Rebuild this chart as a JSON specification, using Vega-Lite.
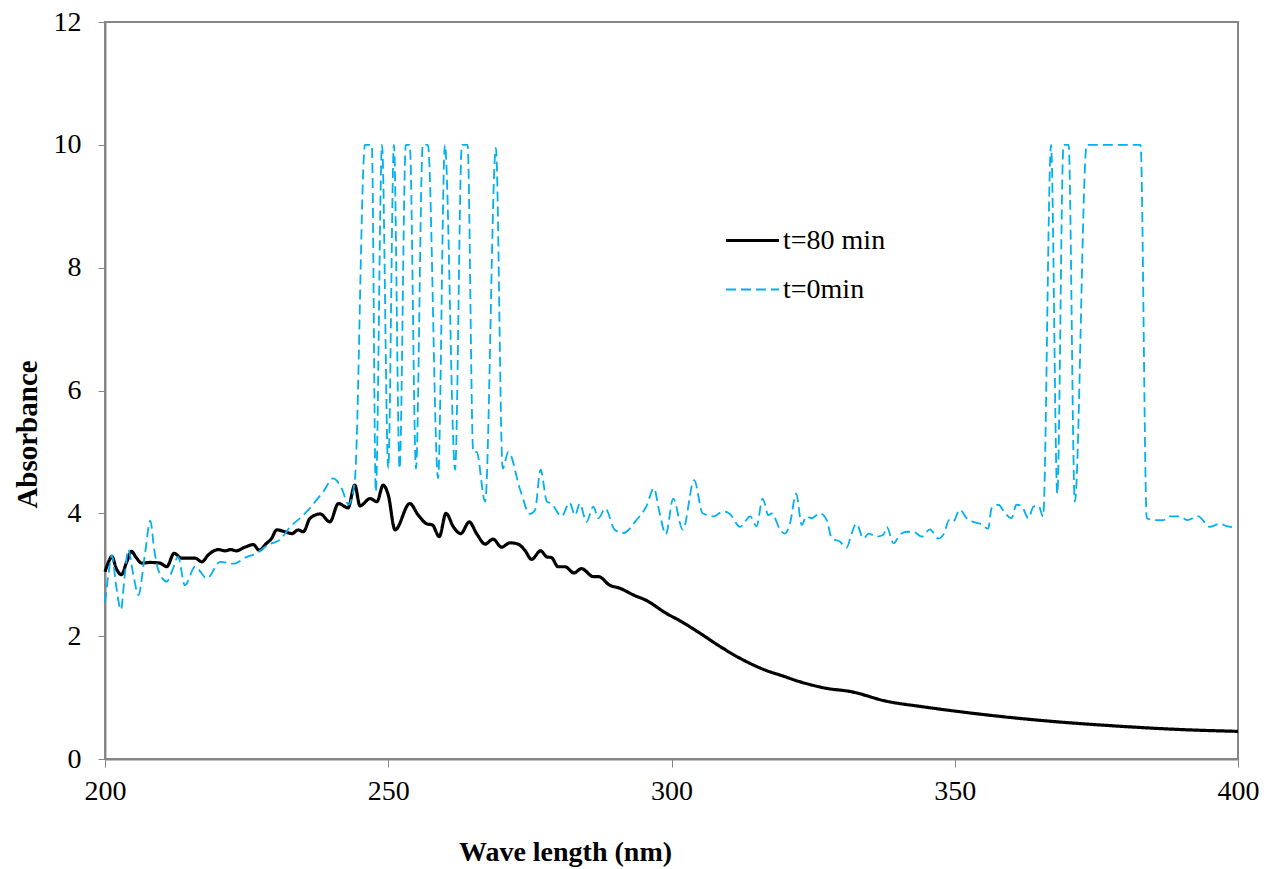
{
  "$schema": "https://vega.github.io/schema/vega-lite/v6.json",
  "width": 1133,
  "height": 737,
  "autosize": {"type": "none"},
  "padding": {"left": 105, "top": 22, "right": 29, "bottom": 110},
  "background": "white",
  "config": {
    "view": {"stroke": "#868686", "strokeWidth": 2},
    "font": "Liberation Serif",
    "legend": {"labelFont": "Liberation Serif", "labelFontSize": 28, "labelColor": "black"}
  },
  "data": {"values": [
    {"s":"t=80 min","x":200,"y":3.05},{"s":"t=80 min","x":200.6,"y":3.2},{"s":"t=80 min","x":201.2,"y":3.3},{"s":"t=80 min","x":202.0,"y":3.1},{"s":"t=80 min","x":202.9,"y":3.0},{"s":"t=80 min","x":203.8,"y":3.2},{"s":"t=80 min","x":204.7,"y":3.38},{"s":"t=80 min","x":205.5,"y":3.28},{"s":"t=80 min","x":206.5,"y":3.19},{"s":"t=80 min","x":208.0,"y":3.2},{"s":"t=80 min","x":209.7,"y":3.19},{"s":"t=80 min","x":210.9,"y":3.13},{"s":"t=80 min","x":212.2,"y":3.35},{"s":"t=80 min","x":213.5,"y":3.27},{"s":"t=80 min","x":215.9,"y":3.27},{"s":"t=80 min","x":217.1,"y":3.21},{"s":"t=80 min","x":218.2,"y":3.32},{"s":"t=80 min","x":220.0,"y":3.41},{"s":"t=80 min","x":221.2,"y":3.39},{"s":"t=80 min","x":222.2,"y":3.41},{"s":"t=80 min","x":223.2,"y":3.39},{"s":"t=80 min","x":224.7,"y":3.45},{"s":"t=80 min","x":226.2,"y":3.49},{"s":"t=80 min","x":227.2,"y":3.4},{"s":"t=80 min","x":228.5,"y":3.51},{"s":"t=80 min","x":229.4,"y":3.59},{"s":"t=80 min","x":230.3,"y":3.73},{"s":"t=80 min","x":231.8,"y":3.7},{"s":"t=80 min","x":233.0,"y":3.67},{"s":"t=80 min","x":234.1,"y":3.73},{"s":"t=80 min","x":235.0,"y":3.7},{"s":"t=80 min","x":236.2,"y":3.92},{"s":"t=80 min","x":238.0,"y":3.99},{"s":"t=80 min","x":239.7,"y":3.86},{"s":"t=80 min","x":241.2,"y":4.16},{"s":"t=80 min","x":242.9,"y":4.09},{"s":"t=80 min","x":244.1,"y":4.46},{"s":"t=80 min","x":245.0,"y":4.12},{"s":"t=80 min","x":246.8,"y":4.24},{"s":"t=80 min","x":248.0,"y":4.19},{"s":"t=80 min","x":249.1,"y":4.46},{"s":"t=80 min","x":250.0,"y":4.3},{"s":"t=80 min","x":251.2,"y":3.73},{"s":"t=80 min","x":253.8,"y":4.16},{"s":"t=80 min","x":255.3,"y":3.97},{"s":"t=80 min","x":256.8,"y":3.83},{"s":"t=80 min","x":257.8,"y":3.81},{"s":"t=80 min","x":259.0,"y":3.62},{"s":"t=80 min","x":260.2,"y":4.0},{"s":"t=80 min","x":261.5,"y":3.78},{"s":"t=80 min","x":262.8,"y":3.67},{"s":"t=80 min","x":264.3,"y":3.86},{"s":"t=80 min","x":265.6,"y":3.67},{"s":"t=80 min","x":267.1,"y":3.5},{"s":"t=80 min","x":268.5,"y":3.58},{"s":"t=80 min","x":270.0,"y":3.45},{"s":"t=80 min","x":271.5,"y":3.52},{"s":"t=80 min","x":272.9,"y":3.5},{"s":"t=80 min","x":274.1,"y":3.4},{"s":"t=80 min","x":275.3,"y":3.25},{"s":"t=80 min","x":276.9,"y":3.39},{"s":"t=80 min","x":278.0,"y":3.29},{"s":"t=80 min","x":278.8,"y":3.28},{"s":"t=80 min","x":280.0,"y":3.13},{"s":"t=80 min","x":281.2,"y":3.13},{"s":"t=80 min","x":282.8,"y":3.03},{"s":"t=80 min","x":284.1,"y":3.1},{"s":"t=80 min","x":286.2,"y":2.97},{"s":"t=80 min","x":287.1,"y":2.97},{"s":"t=80 min","x":289.1,"y":2.83},{"s":"t=80 min","x":290.9,"y":2.78},{"s":"t=80 min","x":293.3,"y":2.67},{"s":"t=80 min","x":295.6,"y":2.58},{"s":"t=80 min","x":299.1,"y":2.37},{"s":"t=80 min","x":301.5,"y":2.25},{"s":"t=80 min","x":305.0,"y":2.05},{"s":"t=80 min","x":308.6,"y":1.83},{"s":"t=80 min","x":312.1,"y":1.64},{"s":"t=80 min","x":316.2,"y":1.46},{"s":"t=80 min","x":319.7,"y":1.35},{"s":"t=80 min","x":322.6,"y":1.26},{"s":"t=80 min","x":327.4,"y":1.15},{"s":"t=80 min","x":331.5,"y":1.1},{"s":"t=80 min","x":338.0,"y":0.94},{"s":"t=80 min","x":344.4,"y":0.85},{"s":"t=80 min","x":354.5,"y":0.73},{"s":"t=80 min","x":366.2,"y":0.62},{"s":"t=80 min","x":378.0,"y":0.54},{"s":"t=80 min","x":389.8,"y":0.48},{"s":"t=80 min","x":400,"y":0.45},
    {"s":"t=0min","x":200,"y":2.55},{"s":"t=0min","x":200.6,"y":3.0},{"s":"t=0min","x":201.2,"y":3.32},{"s":"t=0min","x":202.0,"y":2.8},{"s":"t=0min","x":202.8,"y":2.43},{"s":"t=0min","x":203.5,"y":3.0},{"s":"t=0min","x":204.1,"y":3.41},{"s":"t=0min","x":205.0,"y":3.0},{"s":"t=0min","x":205.9,"y":2.67},{"s":"t=0min","x":207.0,"y":3.3},{"s":"t=0min","x":208.0,"y":3.88},{"s":"t=0min","x":208.7,"y":3.4},{"s":"t=0min","x":209.4,"y":3.08},{"s":"t=0min","x":210.9,"y":2.89},{"s":"t=0min","x":212.0,"y":3.1},{"s":"t=0min","x":212.9,"y":3.29},{"s":"t=0min","x":214.1,"y":2.83},{"s":"t=0min","x":215.9,"y":3.13},{"s":"t=0min","x":218.0,"y":2.94},{"s":"t=0min","x":220.3,"y":3.21},{"s":"t=0min","x":222.6,"y":3.18},{"s":"t=0min","x":225.0,"y":3.29},{"s":"t=0min","x":226.8,"y":3.35},{"s":"t=0min","x":227.9,"y":3.43},{"s":"t=0min","x":229.1,"y":3.5},{"s":"t=0min","x":230.9,"y":3.57},{"s":"t=0min","x":232.7,"y":3.78},{"s":"t=0min","x":235.0,"y":3.97},{"s":"t=0min","x":238.5,"y":4.35},{"s":"t=0min","x":240.3,"y":4.57},{"s":"t=0min","x":241.8,"y":4.4},{"s":"t=0min","x":243.0,"y":4.14},{"s":"t=0min","x":244.1,"y":4.54},{"s":"t=0min","x":245.9,"y":10},{"s":"t=0min","x":247.1,"y":10},{"s":"t=0min","x":247.8,"y":4.35},{"s":"t=0min","x":248.9,"y":10},{"s":"t=0min","x":250.0,"y":4.73},{"s":"t=0min","x":251.0,"y":10},{"s":"t=0min","x":252.0,"y":4.73},{"s":"t=0min","x":253.1,"y":10},{"s":"t=0min","x":253.8,"y":10},{"s":"t=0min","x":254.9,"y":4.73},{"s":"t=0min","x":256.1,"y":10},{"s":"t=0min","x":257.0,"y":10},{"s":"t=0min","x":258.8,"y":4.57},{"s":"t=0min","x":260.0,"y":10},{"s":"t=0min","x":261.8,"y":4.71},{"s":"t=0min","x":263.0,"y":10},{"s":"t=0min","x":264.0,"y":10},{"s":"t=0min","x":265.0,"y":5.0},{"s":"t=0min","x":265.6,"y":5.0},{"s":"t=0min","x":267.1,"y":4.19},{"s":"t=0min","x":269.0,"y":9.95},{"s":"t=0min","x":270.2,"y":4.73},{"s":"t=0min","x":271.2,"y":5.0},{"s":"t=0min","x":273.3,"y":4.38},{"s":"t=0min","x":275.0,"y":3.99},{"s":"t=0min","x":275.9,"y":4.05},{"s":"t=0min","x":276.9,"y":4.71},{"s":"t=0min","x":278.0,"y":4.19},{"s":"t=0min","x":278.8,"y":4.16},{"s":"t=0min","x":280.6,"y":3.95},{"s":"t=0min","x":282.0,"y":4.17},{"s":"t=0min","x":283.0,"y":3.97},{"s":"t=0min","x":283.8,"y":4.16},{"s":"t=0min","x":285.0,"y":3.86},{"s":"t=0min","x":286.2,"y":4.11},{"s":"t=0min","x":287.1,"y":3.92},{"s":"t=0min","x":288.3,"y":4.08},{"s":"t=0min","x":290.0,"y":3.73},{"s":"t=0min","x":291.5,"y":3.68},{"s":"t=0min","x":293.8,"y":3.89},{"s":"t=0min","x":295.6,"y":4.12},{"s":"t=0min","x":296.9,"y":4.41},{"s":"t=0min","x":297.8,"y":4.05},{"s":"t=0min","x":299.0,"y":3.66},{"s":"t=0min","x":300.3,"y":4.24},{"s":"t=0min","x":302.0,"y":3.73},{"s":"t=0min","x":304.0,"y":4.54},{"s":"t=0min","x":305.5,"y":4.0},{"s":"t=0min","x":307.4,"y":3.95},{"s":"t=0min","x":309.1,"y":4.03},{"s":"t=0min","x":310.3,"y":3.99},{"s":"t=0min","x":312.1,"y":3.78},{"s":"t=0min","x":313.9,"y":3.95},{"s":"t=0min","x":315.0,"y":3.79},{"s":"t=0min","x":316.1,"y":4.24},{"s":"t=0min","x":317.1,"y":3.97},{"s":"t=0min","x":317.7,"y":4.0},{"s":"t=0min","x":319.2,"y":3.73},{"s":"t=0min","x":320.0,"y":3.67},{"s":"t=0min","x":320.9,"y":3.83},{"s":"t=0min","x":322.0,"y":4.32},{"s":"t=0min","x":323.0,"y":3.81},{"s":"t=0min","x":323.8,"y":3.95},{"s":"t=0min","x":324.7,"y":3.92},{"s":"t=0min","x":326.2,"y":4.0},{"s":"t=0min","x":327.4,"y":3.89},{"s":"t=0min","x":328.3,"y":3.59},{"s":"t=0min","x":329.7,"y":3.54},{"s":"t=0min","x":330.9,"y":3.44},{"s":"t=0min","x":331.8,"y":3.67},{"s":"t=0min","x":332.6,"y":3.83},{"s":"t=0min","x":333.9,"y":3.59},{"s":"t=0min","x":334.8,"y":3.67},{"s":"t=0min","x":336.2,"y":3.62},{"s":"t=0min","x":337.4,"y":3.65},{"s":"t=0min","x":338.0,"y":3.78},{"s":"t=0min","x":339.2,"y":3.51},{"s":"t=0min","x":340.3,"y":3.65},{"s":"t=0min","x":341.5,"y":3.7},{"s":"t=0min","x":342.7,"y":3.7},{"s":"t=0min","x":344.2,"y":3.62},{"s":"t=0min","x":345.6,"y":3.74},{"s":"t=0min","x":347.1,"y":3.59},{"s":"t=0min","x":348.1,"y":3.67},{"s":"t=0min","x":349.0,"y":3.89},{"s":"t=0min","x":349.7,"y":3.86},{"s":"t=0min","x":350.9,"y":4.06},{"s":"t=0min","x":352.1,"y":3.92},{"s":"t=0min","x":353.3,"y":3.86},{"s":"t=0min","x":354.5,"y":3.83},{"s":"t=0min","x":355.9,"y":3.75},{"s":"t=0min","x":356.5,"y":4.08},{"s":"t=0min","x":357.7,"y":4.14},{"s":"t=0min","x":358.9,"y":4.0},{"s":"t=0min","x":360.0,"y":3.92},{"s":"t=0min","x":360.9,"y":4.14},{"s":"t=0min","x":361.8,"y":4.12},{"s":"t=0min","x":363.0,"y":3.92},{"s":"t=0min","x":363.9,"y":4.11},{"s":"t=0min","x":364.8,"y":4.12},{"s":"t=0min","x":365.6,"y":3.95},{"s":"t=0min","x":367.0,"y":10},{"s":"t=0min","x":368.1,"y":4.32},{"s":"t=0min","x":369.2,"y":10},{"s":"t=0min","x":370.1,"y":10},{"s":"t=0min","x":371.2,"y":4.19},{"s":"t=0min","x":373.3,"y":10},{"s":"t=0min","x":382.8,"y":10},{"s":"t=0min","x":383.9,"y":3.92},{"s":"t=0min","x":385.1,"y":3.89},{"s":"t=0min","x":386.8,"y":3.89},{"s":"t=0min","x":388.0,"y":3.95},{"s":"t=0min","x":389.8,"y":3.95},{"s":"t=0min","x":391.0,"y":3.89},{"s":"t=0min","x":393.0,"y":3.95},{"s":"t=0min","x":395.0,"y":3.78},{"s":"t=0min","x":396.8,"y":3.83},{"s":"t=0min","x":398.0,"y":3.79},{"s":"t=0min","x":400,"y":3.77}
  ]},
  "mark": {"type": "line", "interpolate": "monotone"},
  "encoding": {
    "x": {
      "field": "x", "type": "quantitative",
      "scale": {"domain": [200, 400], "nice": false, "zero": false},
      "axis": {
        "values": [200, 250, 300, 350, 400],
        "title": "Wave length (nm)",
        "titleFont": "Liberation Serif", "titleFontSize": 28, "titleFontWeight": "bold", "titleColor": "black",
        "titleX": 460, "titleY": 93, "titleBaseline": "middle", "titleAlign": "center", "titleAnchor": null,
        "labelFont": "Liberation Serif", "labelFontSize": 28, "labelColor": "black", "labelPadding": 10, "labelFlush": false,
        "tickColor": "#868686", "tickSize": 8, "tickWidth": 1,
        "domainColor": "#868686", "domainWidth": 2, "grid": false
      }
    },
    "y": {
      "field": "y", "type": "quantitative",
      "scale": {"domain": [0, 12], "nice": false},
      "axis": {
        "values": [0, 2, 4, 6, 8, 10, 12],
        "title": "Absorbance",
        "titleFont": "Liberation Serif", "titleFontSize": 29, "titleFontWeight": "bold", "titleColor": "black",
        "titleX": -78, "titleY": 412, "titleBaseline": "middle", "titleAlign": "center", "titleAngle": -90,
        "labelFont": "Liberation Serif", "labelFontSize": 28, "labelColor": "black", "labelPadding": 17,
        "tickColor": "#868686", "tickSize": 7, "tickWidth": 1,
        "domainColor": "#868686", "domainWidth": 2, "grid": false
      }
    },
    "color": {
      "field": "s", "type": "nominal",
      "scale": {"domain": ["t=80 min", "t=0min"], "range": ["#000000", "#00B0F0"]},
      "legend": {
        "orient": "none", "legendX": 619, "legendY": 190, "title": null,
        "symbolType": "stroke", "symbolSize": 2809,
        "labelFont": "Liberation Serif", "labelFontSize": 28, "labelColor": "black",
        "labelOffset": 2, "rowPadding": 7,
        "encode": {"labels": {"update": {"font": {"value": "Liberation Serif"}, "fontSize": {"value": 28}, "fill": {"value": "black"}}}}
      }
    },
    "strokeDash": {
      "field": "s", "type": "nominal",
      "scale": {"domain": ["t=80 min", "t=0min"], "range": [[1, 0], [10, 5]]},
      "legend": {
        "orient": "none", "legendX": 619, "legendY": 190, "title": null,
        "symbolType": "stroke", "symbolSize": 2809,
        "labelFont": "Liberation Serif", "labelFontSize": 28, "labelColor": "black",
        "labelOffset": 2, "rowPadding": 7,
        "encode": {"labels": {"update": {"font": {"value": "Liberation Serif"}, "fontSize": {"value": 28}, "fill": {"value": "black"}}}}
      }
    },
    "strokeWidth": {
      "field": "s", "type": "nominal",
      "scale": {"domain": ["t=80 min", "t=0min"], "range": [3.2, 1.8]},
      "legend": {
        "orient": "none", "legendX": 619, "legendY": 190, "title": null,
        "symbolType": "stroke", "symbolSize": 2809,
        "labelFont": "Liberation Serif", "labelFontSize": 28, "labelColor": "black",
        "labelOffset": 2, "rowPadding": 7,
        "encode": {"labels": {"update": {"font": {"value": "Liberation Serif"}, "fontSize": {"value": 28}, "fill": {"value": "black"}}}}
      }
    }
  }
}
